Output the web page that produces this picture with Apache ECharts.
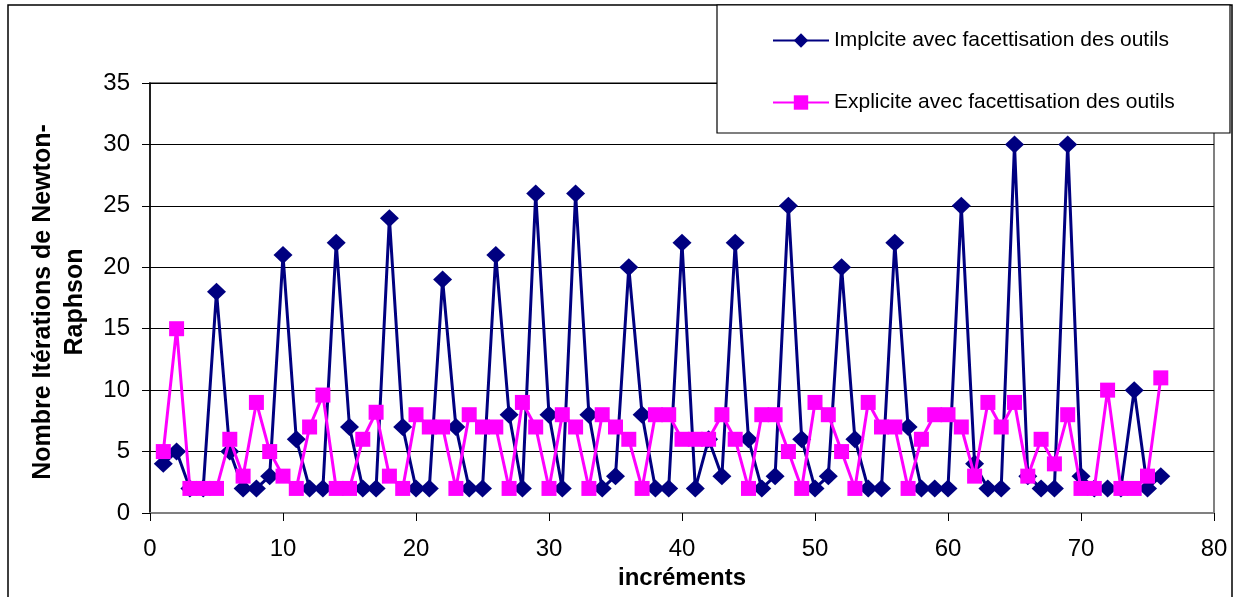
<!DOCTYPE html>
<html>
<head>
<meta charset="utf-8">
<script src="https://cdn.jsdelivr.net/npm/echarts@6/dist/echarts.min.js"></script>
<style>
html,body{margin:0;padding:0;background:#fff;}
#chart{width:1236px;height:597px;}
</style>
</head>
<body>
<div id="chart"></div>
<script>
const increments = [1,2,3,4,5,6,7,8,9,10,11,12,13,14,15,16,17,18,19,20,21,22,23,24,25,26,27,28,29,30,31,32,33,34,35,36,37,38,39,40,41,42,43,44,45,46,47,48,49,50,51,52,53,54,55,56,57,58,59,60,61,62,63,64,65,66,67,68,69,70,71,72,73,74,75,76];
const implicite = [4,5,2,2,18,5,2,2,3,21, 6,2,2,22,7,2,2,24,7,2, 2,19,7,2,2,21,8,2,26,8, 2,26,8,2,3,20,8,2,2,22, 2,6,3,22,6,2,3,25,6,2, 3,20,6,2,2,22,7,2,2,2, 25,4,2,2,30,3,2,2,30,3, 2,2,2,10,2,3];
const explicite = [5,15,2,2,2,6,3,9,5,3, 2,7,9.6,2,2,6,8.2,3,2,8, 7,7,2,8,7,7,2,9,7,2, 8,7,2,8,7,6,2,8,8,6, 6,6,8,6,2,8,8,5,2,9, 8,5,2,9,7,7,2,6,8,8, 7,3,9,7,9,3,6,4,8,2, 2,10,2,2,3,11];
const seriesNames = ['Implcite avec facettisation des outils', 'Explicite avec facettisation des outils'];
const xTicks = [0,10,20,30,40,50,60,70,80];
const yTicks = [0,5,10,15,20,25,30,35];
const xTitle = 'incréments';
const yTitle = 'Nombre Itérations de Newton-\nRaphson';

const FONT = "'Liberation Sans', Arial, sans-serif";
const chart = echarts.init(document.getElementById('chart'), null, {renderer: 'canvas'});
const pair = (vals) => increments.map((x, i) => [x, vals[i]]);

chart.setOption({
  animation: false,
  backgroundColor: '#fff',
  grid: {left: 150, right: 22, top: 83, bottom: 84, show: true, borderColor: '#808080', borderWidth: 2, backgroundColor: '#fff'},
  xAxis: {
    type: 'value', min: xTicks[0], max: xTicks[xTicks.length-1], interval: 10,
    name: xTitle, nameLocation: 'middle', nameGap: 52,
    nameTextStyle: {fontFamily: FONT, fontSize: 24, fontWeight: 'bold', color: '#000'},
    axisLine: {show: true, onZero: false, lineStyle: {color: '#808080', width: 2}},
    axisTick: {show: true, inside: false, length: 8, lineStyle: {color: '#000', width: 1}},
    axisLabel: {fontFamily: FONT, fontSize: 24, color: '#000', margin: 24},
    splitLine: {show: false}
  },
  yAxis: {
    type: 'value', min: yTicks[0], max: yTicks[yTicks.length-1], interval: 5,
    axisLine: {show: true, lineStyle: {color: '#000', width: 1.5}},
    axisTick: {show: true, inside: false, length: 8, lineStyle: {color: '#000', width: 1}},
    axisLabel: {fontFamily: FONT, fontSize: 24, color: '#000', margin: 20},
    splitLine: {show: true, lineStyle: {color: '#000', width: 1}}
  },
  legend: {
    orient: 'vertical', left: 772, top: 30, padding: 0, z: 60,
    itemWidth: 56, itemHeight: 18, itemGap: 41,
    textStyle: {fontFamily: FONT, fontSize: 21, color: '#000', lineHeight: 20},
    data: seriesNames
  },
  graphic: {elements: [
    {type: 'rect', z: 50, silent: true, shape: {x: 8, y: 5, width: 1224, height: 600}, style: {fill: 'none', stroke: '#000', lineWidth: 1.5}},
    {type: 'rect', z: 55, silent: true, shape: {x: 717, y: 5, width: 513, height: 128}, style: {fill: '#fff', stroke: '#000', lineWidth: 1.2}},
    {type: 'text', z: 55, silent: true, x: 59, y: 302, rotation: Math.PI/2,
      style: {text: yTitle, fontFamily: FONT, fontSize: 25, fontWeight: 'bold', fill: '#000', align: 'center', verticalAlign: 'middle', lineHeight: 32}}
  ]},
  series: [
    {name: seriesNames[0], type: 'line', data: pair(implicite), symbol: 'diamond', symbolSize: [19, 18],
      lineStyle: {color: '#000080', width: 3}, itemStyle: {color: '#000080'}, z: 2},
    {name: seriesNames[1], type: 'line', data: pair(explicite), symbol: 'rect', symbolSize: 15,
      lineStyle: {color: '#FF00FF', width: 3}, itemStyle: {color: '#FF00FF'}, z: 3}
  ]
});
</script>
</body>
</html>
